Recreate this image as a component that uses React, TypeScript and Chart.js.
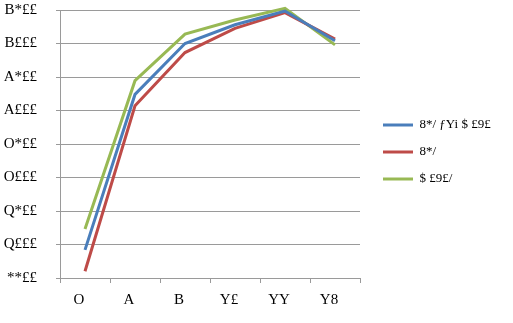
import React, { useEffect, useRef } from 'react';
import { Chart, registerables } from 'chart.js';

Chart.register(...registerables);

const categories = ['O', 'A', 'B', 'Y£', 'YY', 'Y8'];
const yMin = 5500;
const yMax = 9500;
const yStep = 500;
// bottom to top
const yTickLabels = ['**££', 'Q£££', 'Q*££', 'O£££', 'O*££', 'A£££', 'A*££', 'B£££', 'B*££'];
const seriesNames = ['8*/ ƒYi $ £9£', '8*/', '$ £9£/'];
const blueValues = [5920, 8240, 9000, 9280, 9485, 9040];
const redValues = [5600, 8070, 8865, 9225, 9460, 9065];
const greenValues = [6230, 8445, 9140, 9350, 9525, 8980];
const colors = ['#4A7EBB', '#BE4B48', '#98B954'];

const legendWidthPlugin = {
  id: 'legendWidth',
  beforeLayout(chart: any) {
    const lg: any = chart.legend;
    if (lg && !lg.__patched) {
      const orig = lg.fit;
      lg.fit = function () {
        orig.call(this);
        this.width = 144;
      };
      lg.__patched = true;
    }
  },
};

export default function App() {
  const ref = useRef<HTMLCanvasElement>(null);
  useEffect(() => {
    if (!ref.current) return;
    const font = { family: '"Liberation Serif", serif', size: 15 };
    const seriesValues = [blueValues, redValues, greenValues];
    const chart = new Chart(ref.current, {
      type: 'line',
      data: {
        labels: categories,
        datasets: seriesNames.map((name, i) => ({
          label: name,
          data: seriesValues[i],
          borderColor: colors[i],
          backgroundColor: colors[i],
          borderWidth: 3,
          pointRadius: 0,
          tension: 0,
          clip: false as any,
        })),
      },
      plugins: [legendWidthPlugin],
      options: {
        responsive: false,
        animation: false,
        layout: { padding: { top: 10, right: 0, bottom: 0, left: 0 } },
        plugins: {
          tooltip: { enabled: false },
          legend: {
            position: 'right',
            align: 'center',
            fullSize: false,
            title: { display: true, text: ' ', padding: 2, font: { size: 10 } },
            labels: {
              usePointStyle: true,
              pointStyle: 'line',
              pointStyleWidth: 30,
              padding: 14,
              color: '#000',
              font: { family: '"Liberation Serif", serif', size: 13 },
            },
          },
        },
        scales: {
          x: {
            type: 'category',
            offset: true,
            grid: {
              offset: true,
              drawOnChartArea: false,
              drawTicks: true,
              tickLength: 5,
              color: '#9a9a9a',
            },
            border: { display: true, color: '#9a9a9a', width: 1 },
            ticks: { color: '#000', font, padding: 8, labelOffset: -6, maxRotation: 0, autoSkip: false },
            afterFit: (s: any) => {
              s.height = 45;
              s.paddingLeft = 0;
              s.paddingRight = 0;
            },
          },
          y: {
            type: 'linear',
            min: yMin,
            max: yMax,
            ticks: {
              stepSize: yStep,
              color: '#000',
              font,
              padding: 19,
              callback: (_v: any, i: number) => yTickLabels[i],
            },
            grid: { color: '#9a9a9a', tickLength: 4, drawTicks: true },
            border: { display: true, color: '#9a9a9a', width: 1 },
            afterFit: (s: any) => {
              s.width = 60;
              s.paddingTop = 0;
              s.paddingBottom = 0;
            },
          },
          yR: {
            type: 'linear',
            position: 'right',
            display: true,
            grid: { display: false },
            border: { display: false },
            ticks: { display: false },
            afterFit: (s: any) => {
              s.width = 9;
            },
          },
        },
      },
    } as any);
    return () => chart.destroy();
  }, []);
  return (
    <div style={{ position: 'absolute', left: 0, top: 0, width: 513, height: 323 }}>
      <canvas ref={ref} width={513} height={323} style={{ display: 'block' }} />
    </div>
  );
}
